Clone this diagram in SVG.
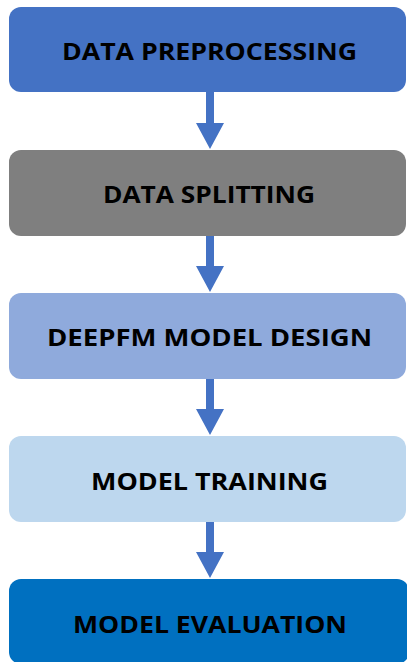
<svg xmlns="http://www.w3.org/2000/svg" width="407" height="662" viewBox="0 0 407 662">
  <style>
    .box { stroke: none; }
    .label { font-family: "Open Sans", "Liberation Sans", sans-serif; font-weight: 700; font-size: 24px; fill: #000000; text-anchor: middle; }
    .arrow { fill: #4472C4; }
  </style>
  <defs>
    <!-- downward block arrow, 58px tall, drawn from its top centre -->
    <path id="down-arrow" d="M -4 0 H 4 V 31 H 14 L 0 57 L -14 31 H -4 Z"/>
  </defs>
  <rect width="407" height="662" fill="#ffffff"/>

  <g id="connectors" class="arrow">
    <use href="#down-arrow" x="210" y="92"/>
    <use href="#down-arrow" x="210" y="235"/>
    <use href="#down-arrow" x="210" y="378"/>
    <use href="#down-arrow" x="210" y="521"/>
  </g>

  <g id="data-preprocessing">
    <rect class="box" x="9" y="7" width="397" height="85" rx="12" fill="#4472C4"/>
    <text class="label" x="209.5" y="60" textLength="295" lengthAdjust="spacingAndGlyphs">DATA PREPROCESSING</text>
  </g>
  <g id="data-splitting">
    <rect class="box" x="9" y="150" width="397" height="86" rx="12" fill="#7F7F7F"/>
    <text class="label" x="209" y="203" textLength="212" lengthAdjust="spacingAndGlyphs">DATA SPLITTING</text>
  </g>
  <g id="deepfm-model-design">
    <rect class="box" x="9" y="293" width="397" height="86" rx="12" fill="#8FAADC"/>
    <text class="label" x="209.5" y="346" textLength="325" lengthAdjust="spacingAndGlyphs">DEEPFM MODEL DESIGN</text>
  </g>
  <g id="model-training">
    <rect class="box" x="9" y="436" width="397" height="86" rx="12" fill="#BDD7EE"/>
    <text class="label" x="209.5" y="490" textLength="237" lengthAdjust="spacingAndGlyphs">MODEL TRAINING</text>
  </g>
  <g id="model-evaluation">
    <rect class="box" x="9" y="579" width="400" height="85" rx="12" fill="#0070C0"/>
    <text class="label" x="210" y="633" textLength="274" lengthAdjust="spacingAndGlyphs">MODEL EVALUATION</text>
  </g>
</svg>
